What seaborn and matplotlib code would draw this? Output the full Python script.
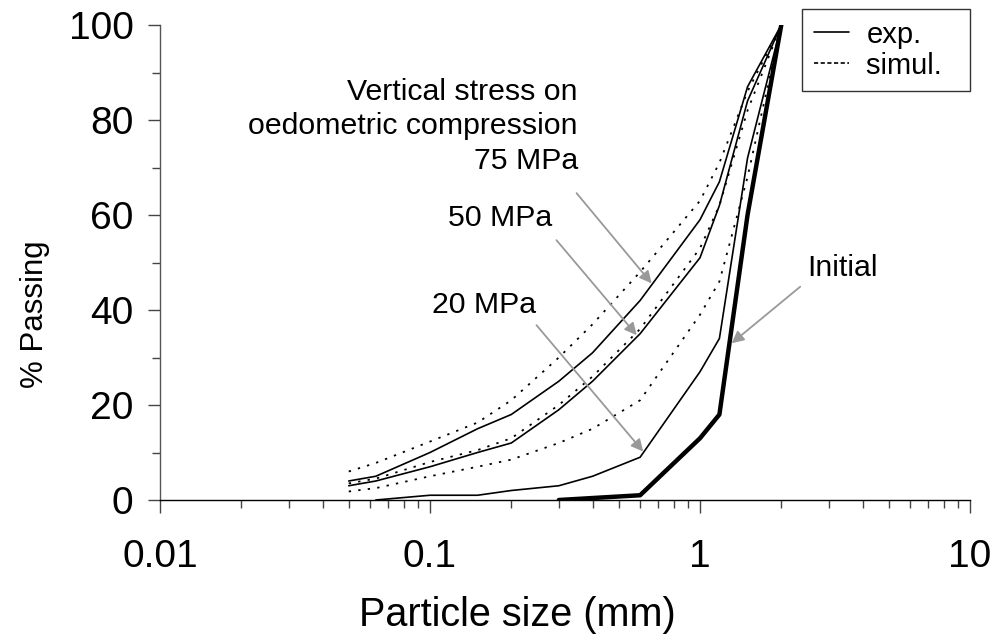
import numpy as np
import pandas as pd
import matplotlib
matplotlib.use("Agg")
import matplotlib.pyplot as plt
from matplotlib.lines import Line2D
import seaborn as sns

# sieve sizes (mm)
sizes = [0.05, 0.063, 0.1, 0.15, 0.2, 0.3, 0.4, 0.6, 1.0, 1.18, 1.5, 2.0]

# experimental curves (% passing)
exp_75 = [4, 5, 10, 15, 18, 25, 31, 42, 59, 67, 87, 100]
exp_50 = [3, 4, 7, 10, 12, 19, 25, 35, 51, 62, 84, 100]
exp_20_sizes = [0.063, 0.1, 0.15, 0.2, 0.3, 0.4, 0.6, 1.0, 1.18, 1.5, 2.0]
exp_20 = [0, 1, 1, 2, 3, 5, 9, 27, 34, 72, 100]
init_sizes = [0.3, 0.6, 1.0, 1.18, 1.5, 2.0]
initial = [0, 1, 13, 18, 60, 100]

# simulated curves
sim_75 = [6, 7.8, 12.3, 16.3, 21, 30, 37, 48, 63, 71, 86, 100]
sim_50 = [3.5, 4.5, 8, 10.5, 13, 20, 26, 36, 53, 62, 82, 100]
sim_20 = [1.8, 2.5, 5, 7, 8.5, 12, 15, 21, 39, 46, 68, 100]

sns.set_style("ticks")
plt.rcParams["font.family"] = ["Liberation Sans", "DejaVu Sans"]
plt.rcParams["text.color"] = "black"
plt.rcParams["axes.labelcolor"] = "black"
plt.rcParams["xtick.labelcolor"] = "black"
plt.rcParams["ytick.labelcolor"] = "black"

fig = plt.figure(figsize=(9.97, 6.39), dpi=100)
ax = fig.add_axes([160 / 997, 1 - 500 / 639, 810 / 997, 475 / 639])

dotted = (0, (1.3, 4))
for vals in [sim_75, sim_50, sim_20]:
    sns.lineplot(x=sizes, y=vals, ax=ax, color="black", lw=1.3, linestyle=dotted)
for xs, vals in [(sizes, exp_75), (sizes, exp_50), (exp_20_sizes, exp_20)]:
    sns.lineplot(x=xs, y=vals, ax=ax, color="black", lw=1.2)
sns.lineplot(x=init_sizes, y=initial, ax=ax, color="black", lw=3.2)

ax.set_xscale("log")
ax.set_xlim(0.01, 10)
ax.set_ylim(0, 100)
ax.set_xticks([0.01, 0.1, 1, 10])
ax.set_xticklabels(["0.01", "0.1", "1", "10"])
ax.xaxis.set_minor_locator(matplotlib.ticker.LogLocator(base=10, subs=np.arange(2, 10)))
ax.xaxis.set_minor_formatter(matplotlib.ticker.NullFormatter())
ax.set_yticks(range(0, 101, 20))
ax.set_yticks(range(10, 100, 20), minor=True)

for s in ["top", "right"]:
    ax.spines[s].set_visible(False)
ax.spines["bottom"].set_color("black")
ax.spines["left"].set_color("#555555")
for s in ["left", "bottom"]:
    ax.spines[s].set_linewidth(1.0)

ax.tick_params(axis="both", which="major", direction="out", length=9, width=1,
               labelsize=28, color="#444444")
ax.tick_params(axis="both", which="minor", direction="out", length=6, width=1,
               color="#444444")
ax.tick_params(axis="x", which="major", pad=19)
ax.tick_params(axis="y", which="major", pad=10)

ax.set_xlabel("Particle size (mm)", fontsize=28.5)
ax.xaxis.set_label_coords((517 - 160) / 810, -(596 - 500) / 475)
ax.set_ylabel("% Passing", fontsize=22.5)
ax.yaxis.set_label_coords(-(160 - 50) / 810, (500 - 314) / 475)

# annotations
txt = 21.8
ax.text(0.353, 78.7, "Vertical stress on\noedometric compression\n75 MPa",
        ha="right", va="center", multialignment="right", fontsize=txt,
        linespacing=1.3)
ax.text(0.283, 59.4, "50 MPa", ha="right", va="center", fontsize=txt)
ax.text(0.248, 41, "20 MPa", ha="right", va="center", fontsize=txt)
ax.text(2.49, 48.8, "Initial", ha="left", va="center", fontsize=txt)

arrow = dict(arrowstyle="-|>", color="#999999", lw=1.3, mutation_scale=18,
             shrinkA=0, shrinkB=0)
ax.annotate("", xy=(0.662, 45.6), xytext=(0.349, 64.6), arrowprops=arrow)
ax.annotate("", xy=(0.583, 34.7), xytext=(0.294, 54.7), arrowprops=arrow)
ax.annotate("", xy=(0.616, 10.2), xytext=(0.248, 36.8), arrowprops=arrow)
ax.annotate("", xy=(1.31, 33), xytext=(2.35, 44.9), arrowprops=arrow)

handles = [Line2D([], [], color="black", lw=1.2),
           Line2D([], [], color="black", lw=1.2, linestyle=(0, (2.5, 1.5)))]
leg = ax.legend(handles, ["exp.", "simul.  "], loc="upper right",
                bbox_to_anchor=(970 / 997, 1 - 9 / 639), bbox_transform=fig.transFigure,
                fontsize=21, frameon=True, fancybox=False, handlelength=1.2,
                handletextpad=0.6, borderpad=0.4, labelspacing=0.1,
                borderaxespad=0)
leg.get_frame().set_edgecolor("black")
leg.get_frame().set_linewidth(1.0)

fig.savefig("out.png", dpi=100)
